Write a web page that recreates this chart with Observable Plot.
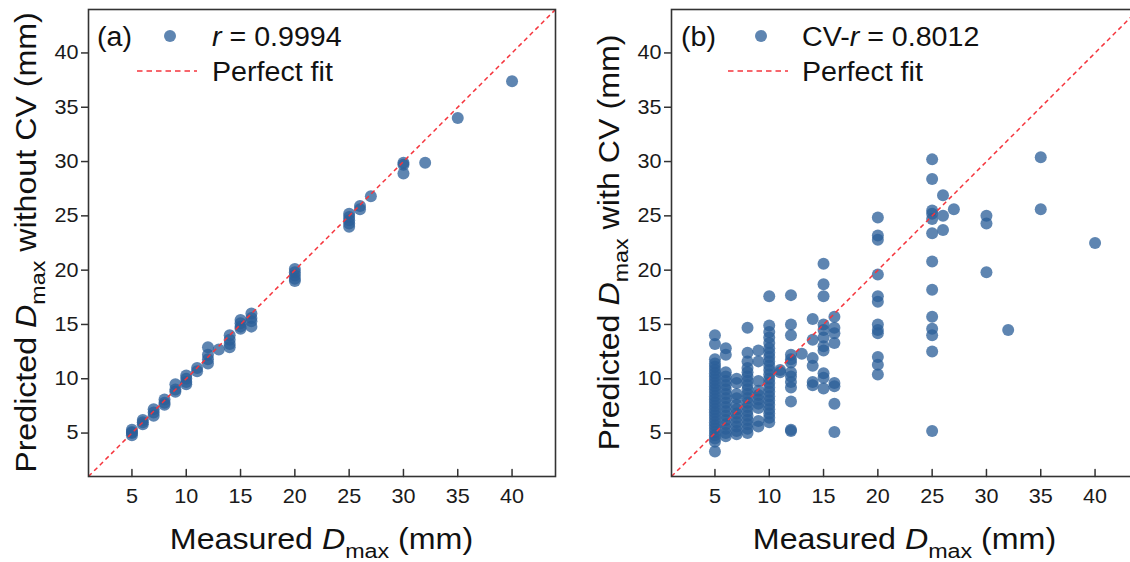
<!DOCTYPE html>
<html>
<head>
<meta charset="utf-8">
<script src="https://cdn.jsdelivr.net/npm/d3@7"></script>
<script src="https://cdn.jsdelivr.net/npm/@observablehq/plot@0.6"></script>
<style>
  html, body { margin: 0; padding: 0; background: #fff; overflow: hidden; }
  #wrap { display: flex; width: 1160px; height: 562px; }
  #wrap svg { flex: none; max-width: none !important; }
</style>
</head>
<body>
<div id="wrap"></div>
<script>
// ---------- data ----------
const tickValues = [5, 10, 15, 20, 25, 30, 35, 40];
const axisDomain = [1, 44];
const fitLine = [{x1: 1, y1: 1, x2: 44, y2: 44}];

// Panel (a): measured vs predicted without CV
const measuredA = [
  5, 5, 5, 5,
  6, 6, 6,
  7, 7, 7,
  8, 8, 8,
  9, 9, 9,
  10, 10, 10, 10,
  11, 11,
  12, 12, 12, 12,
  13,
  14, 14, 14, 14,
  15, 15, 15, 15,
  16, 16, 16, 16,
  20, 20, 20, 20, 20,
  25, 25, 25, 25, 25,
  26, 26,
  27,
  30, 30, 30,
  32,
  35,
  40
];
const predictedA = [
  5.3, 5.0, 4.8, 5.1,
  6.2, 6.0, 5.8,
  7.2, 6.9, 6.6,
  8.1, 7.8, 7.6,
  9.5, 9.0, 8.8,
  10.3, 10.0, 9.7, 9.5,
  11.0, 10.7,
  12.9, 12.2, 11.8, 11.4,
  12.7,
  14.0, 13.6, 13.2, 12.9,
  15.4, 15.1, 14.8, 14.6,
  16.0, 15.6, 15.3, 14.8,
  20.1, 19.8, 19.5, 19.2, 19.0,
  25.2, 24.9, 24.6, 24.3, 24.0,
  25.9, 25.6,
  26.8,
  29.9, 29.7, 28.9,
  29.9,
  34.0,
  37.4
];

// Panel (b): measured vs predicted with CV
const measuredB = [
  5,5,5,5,5,5,5,5,5,5,5,5,5,5,5,5,5,5,5,5,5,5,5,5,5,5,5,5,5,
  6,6,6,6,6,6,6,6,6,6,6,6,6,6,6,6,6,6,
  7,7,7,7,7,7,7,7,7,7,7,7,
  8,8,8,8,8,8,8,8,8,8,8,8,8,8,8,8,8,8,8,
  9,9,9,9,9,9,9,9,9,9,
  10,10,10,10,10,10,10,10,10,10,10,10,10,10,10,10,10,10,10,10,10,10,10,
  11,11,
  12,12,12,12,12,12,12,12,12,12,12,12,12,
  13,
  14,14,14,14,14,14,
  15,15,15,15,15,15,15,15,15,15,15,
  16,16,16,16,16,16,16,16,
  20,20,20,20,20,20,20,20,20,20,20,20,
  25,25,25,25,25,25,25,25,25,25,25,25,25,
  26,26,26,
  27,
  30,30,30,
  32,
  35,35,
  40
];
const predictedB = [
  14.0, 13.2, 11.8, 11.4, 11.1, 10.8, 10.5, 10.2, 9.9, 9.6, 9.3, 9.0, 8.7, 8.4, 8.1, 7.8, 7.5, 7.2, 6.9, 6.6, 6.3, 6.0, 5.7, 5.4, 5.1, 4.8, 4.5, 4.2, 3.3,
  12.8, 12.2, 10.6, 10.2, 9.8, 9.4, 9.0, 8.6, 8.2, 7.8, 7.4, 7.0, 6.6, 6.2, 5.8, 5.4, 5.0, 4.7,
  10.0, 9.6, 8.6, 8.2, 7.6, 7.2, 6.8, 6.4, 6.0, 5.6, 5.2, 4.9,
  14.7, 12.4, 11.6, 11.0, 10.6, 10.2, 9.8, 9.4, 9.0, 8.6, 8.2, 7.8, 7.4, 7.0, 6.6, 6.2, 5.8, 5.4, 5.0,
  12.6, 11.6, 9.8, 8.9, 8.5, 8.1, 7.7, 7.3, 6.1, 5.6,
  17.6, 14.9, 14.3, 13.8, 13.3, 12.8, 12.4, 12.0, 11.6, 11.2, 10.8, 10.4, 10.0, 9.6, 9.2, 8.8, 8.4, 8.0, 7.6, 7.2, 6.8, 6.4, 6.0,
  10.8, 10.6,
  17.7, 15.0, 14.0, 12.2, 11.8, 11.5, 10.6, 10.2, 9.7, 9.2, 7.9, 5.2, 5.3,
  12.3,
  15.5, 13.6, 11.9, 11.2, 9.7, 9.4,
  20.6, 18.7, 17.6, 15.0, 14.5, 13.8, 13.0, 12.6, 10.5, 10.1, 9.1,
  15.7, 14.7, 14.2, 13.3, 9.6, 9.3, 7.7, 5.1,
  24.85, 23.2, 22.8, 19.6, 17.6, 17.1, 15.0, 14.5, 14.2, 12.0, 11.3, 10.4,
  30.2, 28.4, 25.5, 25.2, 24.7, 23.4, 20.8, 18.2, 15.7, 14.6, 14.0, 12.5, 5.2,
  26.9, 25.0, 23.7,
  25.6,
  25.0, 24.3, 19.8,
  14.5,
  30.4, 25.6,
  22.5
];

// ---------- styles ----------
const FONT = "'Liberation Sans', Arial, Helvetica, sans-serif";
const DOT = "#2b5f98";
const RED = "#f5343c";
const AXIS = "#333333";
const STRETCH = 1.11;   // reference glyphs are slightly wide

function buildPanel(cfg) {
  const data = cfg.measured.map((m, i) => ({m, p: cfg.predicted[i]}));
  const svg = Plot.plot({
    width: cfg.width,
    height: 562,
    marginLeft: cfg.marginLeft,
    marginRight: cfg.marginRight,
    marginTop: 9,
    marginBottom: 86,
    style: {fontFamily: FONT, fontSize: "20px", color: "#1a1a1a", background: "#fff", overflow: "visible"},
    x: {domain: axisDomain, label: null},
    y: {domain: axisDomain, label: null},
    marks: [
      Plot.dot(data, {x: "m", y: "p", r: 6, fill: DOT, fillOpacity: 0.76, stroke: "none"}),
      Plot.link(fitLine, {x1: "x1", y1: "y1", x2: "x2", y2: "y2", stroke: RED, strokeWidth: 1.5, strokeDasharray: "4.5,3.5"}),
      Plot.frame({stroke: AXIS, strokeWidth: 1.6}),
      Plot.axisX(tickValues, {tickSize: 0, tickPadding: 12, fontSize: 20, label: null, tickFormat: d => String(d)}),
      Plot.vector(tickValues, {x: d => d, frameAnchor: "bottom", length: 7, rotate: 0, anchor: "start", r: 0, stroke: AXIS, strokeWidth: 1.5}),
      Plot.axisY(tickValues, {tickSize: 7, tickPadding: 3, fontSize: 20, label: null, stroke: AXIS, strokeWidth: 1.5, tickFormat: d => String(d)})
    ]
  });
  svg.style.maxWidth = "none";
  svg.style.flex = "none";
  const s = d3.select(svg);

  // widen tick labels slightly, like the reference
  s.selectAll('g[aria-label="x-axis tick label"] text, g[aria-label="y-axis tick label"] text')
    .attr("transform", function() { return (this.getAttribute("transform") || "") + " scale(1.08,1)"; });

  // x-axis title
  const xt = s.append("text")
    .attr("transform", `translate(${cfg.xTitleX},549) scale(${STRETCH},1)`)
    .attr("text-anchor", "middle")
    .attr("font-family", FONT).attr("font-size", 29).attr("fill", "#111");
  xt.append("tspan").text("Measured ");
  xt.append("tspan").attr("font-style", "italic").text("D");
  xt.append("tspan").attr("font-size", 21).attr("dy", 9).text("max");
  xt.append("tspan").attr("dy", -9).text(" (mm)");

  // y-axis title
  const yt = s.append("text")
    .attr("transform", `translate(${cfg.yTitleX},242.5) rotate(-90) scale(${STRETCH},1)`)
    .attr("text-anchor", "middle")
    .attr("font-family", FONT).attr("font-size", 29).attr("fill", "#111");
  yt.append("tspan").text("Predicted ");
  yt.append("tspan").attr("font-style", "italic").text("D");
  yt.append("tspan").attr("font-size", 21).attr("dy", 9).text("max");
  yt.append("tspan").attr("dy", -9).text(cfg.yTitleRest);

  // legend
  const g = s.append("g").attr("font-family", FONT).attr("font-size", 27).attr("fill", "#111")
    .attr("text-anchor", "start");
  g.append("text").attr("text-anchor", "start")
    .attr("transform", `translate(${cfg.lg.tagX},46) scale(1.06,1)`).text(cfg.tag);
  g.append("circle").attr("cx", cfg.lg.dotX).attr("cy", 36).attr("r", 6)
    .attr("fill", DOT).attr("fill-opacity", 0.76);
  const t1 = g.append("text").attr("text-anchor", "start")
    .attr("transform", `translate(${cfg.lg.textX},46) scale(1.06,1)`);
  if (cfg.prefix) t1.append("tspan").text(cfg.prefix);
  t1.append("tspan").attr("font-style", "italic").text("r");
  t1.append("tspan").text(" = " + cfg.rValue);
  g.append("line").attr("x1", cfg.lg.lineX1).attr("x2", cfg.lg.lineX2)
    .attr("y1", 71).attr("y2", 71)
    .attr("stroke", RED).attr("stroke-width", 1.5).attr("stroke-dasharray", "5.5,4");
  g.append("text").attr("text-anchor", "start")
    .attr("transform", `translate(${cfg.lg.textX},81) scale(1.06,1)`).text("Perfect fit");
  return svg;
}

const wrap = document.getElementById("wrap");
wrap.appendChild(buildPanel({
  measured: measuredA, predicted: predictedA,
  width: 565, marginLeft: 88, marginRight: 10,
  xTitleX: 321.5, yTitleX: 36, yTitleRest: " without CV (mm)",
  tag: "(a)", prefix: "", rValue: "0.9994",
  lg: {tagX: 97, dotX: 170, textX: 212, lineX1: 137, lineX2: 197}
}));
wrap.appendChild(buildPanel({
  measured: measuredB, predicted: predictedB,
  width: 583, marginLeft: 106, marginRight: 10,
  xTitleX: 339.5, yTitleX: 54, yTitleRest: " with CV (mm)",
  tag: "(b)", prefix: "CV-", rValue: "0.8012",
  lg: {tagX: 116, dotX: 196, textX: 237, lineX1: 163, lineX2: 223}
}));
</script>
</body>
</html>
